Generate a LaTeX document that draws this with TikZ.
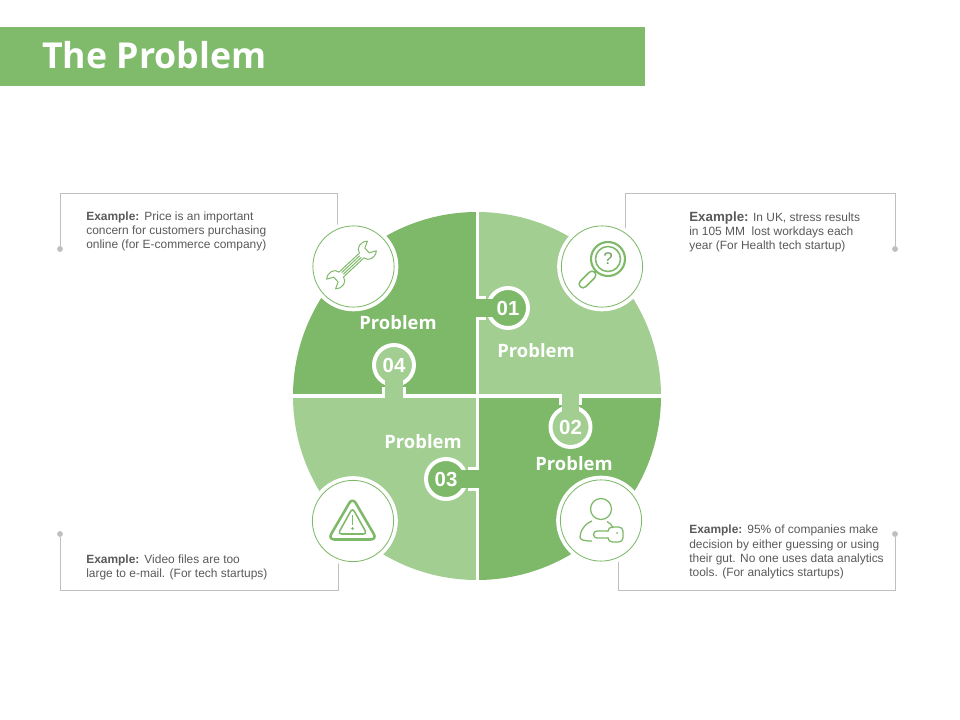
\documentclass[tikz,border=0pt]{standalone}
\usepackage{fontspec}
\setmainfont{Liberation Sans}
\newfontfamily\headfont{Open Sans}
\usetikzlibrary{positioning}

\definecolor{headgreen}{HTML}{7FBB6B}
\definecolor{darkgreen}{HTML}{7DB968}
\definecolor{lightgreen}{HTML}{A2CE92}
\definecolor{boxgray}{HTML}{BFBFBF}
\definecolor{textgray}{HTML}{595959}
\newcommand{\exlabel}{\textbf{Example:}\hspace{.42em}}

\begin{document}
\begin{tikzpicture}[x=0.025cm, y=-0.025cm,
  boxline/.style={draw=boxgray, line width=0.5pt},
  boxdot/.style={circle, fill=boxgray, minimum size=4.2pt, inner sep=0pt},
  note/.style={anchor=north west, inner sep=0pt, align=left, text=textgray, font=\fontsize{8.5}{10}\selectfont},
  problem/.style={text=white, inner sep=0pt, font=\headfont\bfseries\fontsize{13.1}{14}\selectfont},
  tabdisc/.style={circle, draw=white, line width=2.8pt, minimum size=1cm, inner sep=0pt, text=white, font=\bfseries\fontsize{14.5}{16}\selectfont},
  stemring/.style={draw=white, line width=17pt},
  stemfill/.style={line width=12.2pt, shorten <=-2pt, shorten >=-5pt},
  iconring/.style={circle, draw=darkgreen, fill=white, line width=0.6pt, minimum size=2.03cm, inner sep=0pt, preaction={draw=white, line width=6pt}},
  iconline/.style={draw=darkgreen, line width=0.7pt, line join=round},
  iconbold/.style={draw=darkgreen, line width=1.5pt, line join=round}]
\useasboundingbox (0,0) rectangle (960,720);

% header
\fill[headgreen] (0,27) rectangle (645,86);
\node (title) [anchor=west, text=white, inner sep=0pt, font=\headfont\bfseries\fontsize{25.4}{28}\selectfont] at (42,55) {The Problem};

% outlines of the notes
\node (dotA) [boxdot] at (60,249) {};
\node (dotB) [boxdot] at (895,249) {};
\node (dotC) [boxdot] at (60,534) {};
\node (dotD) [boxdot] at (895,534) {};
\coordinate (cornerA) at (337,193);
\coordinate (cornerB) at (625,193);
\coordinate (cornerC) at (338,590);
\coordinate (cornerD) at (618,590);
\coordinate (endA) at (337,240);
\coordinate (endB) at (625,240);
\coordinate (endC) at (338,550);
\coordinate (endD) at (618,550);
\draw[boxline] (dotA) |- (cornerA) -- (endA);
\draw[boxline] (dotB) |- (cornerB) -- (endB);
\draw[boxline] (dotC) |- (cornerC) -- (endC);
\draw[boxline] (dotD) |- (cornerD) -- (endD);

% the four pieces
\begin{scope}
\clip (477,396) circle [radius=184];
\fill[darkgreen] (280,200) rectangle (475.5,394.5);
\fill[lightgreen] (479,200) rectangle (670,394.5);
\fill[lightgreen] (280,398) rectangle (475.5,590);
\fill[darkgreen] (479,398) rectangle (670,590);
\end{scope}

% numbered tabs
\coordinate (edge01) at (477,308);
\coordinate (edge02) at (570.5,396);
\coordinate (edge03) at (477,479);
\coordinate (edge04) at (394,396);
\node (num01) [tabdisc, fill=darkgreen] at (508,308) {01};
\node (num02) [tabdisc, fill=lightgreen] at (570.5,427) {02};
\node (num03) [tabdisc, fill=darkgreen] at (446,479) {03};
\node (num04) [tabdisc, fill=lightgreen] at (394,365) {04};
\draw[stemring] (edge01) -- (num01);
\draw[stemring] (edge02) -- (num02);
\draw[stemring] (edge03) -- (num03);
\draw[stemring] (edge04) -- (num04);
\draw[stemfill, draw=darkgreen] (edge01) -- (num01);
\draw[stemfill, draw=lightgreen] (edge02) -- (num02);
\draw[stemfill, draw=darkgreen] (edge03) -- (num03);
\draw[stemfill, draw=lightgreen] (edge04) -- (num04);

\node (probA) [problem] at (398,323) {Problem};
\node (probB) [problem] at (536,351) {Problem};
\node (probC) [problem] at (423,442) {Problem};
\node (probD) [problem] at (574,464) {Problem};

% icon discs
\node (iconA) [iconring] at (353.5,266.5) {};
\node (iconB) [iconring] at (602,266.5) {};
\node (iconC) [iconring] at (353,521) {};
\node (iconD) [iconring] at (601,520.5) {};

% wrench
\begin{scope}[shift={(351.5,265)}, rotate=43, scale=.82]
\draw[iconline] (-17,-4) -- (17,-4) .. controls (18,-11) and (27,-14) .. (34,-8) -- (26,-4) -- (26,4) -- (34,8) .. controls (27,14) and (18,11) .. (17,4)
  -- (-17,4) .. controls (-18,11) and (-27,14) .. (-34,8) -- (-26,4) -- (-26,-4) -- (-34,-8) .. controls (-27,-14) and (-18,-11) .. (-17,-4);
\draw[iconline] (-15,-1.4) -- (15,-1.4);
\draw[iconline] (-15,1.4) -- (15,1.4);
\end{scope}

% magnifier
\coordinate (lens) at (608,259);
\draw[iconbold] (lens) circle [radius=17];
\draw[iconbold, line width=1.1pt] (lens) circle [radius=12.5];
\node (quest) [text=darkgreen!85!black, inner sep=0pt, font=\fontsize{12}{13}\selectfont] at (lens) {?};
\draw[iconbold] (596,271) -- (592,275);
\draw[darkgreen, line width=6.6pt, line cap=round] (592,275) -- (583,284);
\draw[white, line width=4.2pt, line cap=round] (592,275) -- (583,284);

% warning sign
\draw[iconbold, line width=1.8pt, rounded corners=4.5pt] (352.5,497.5) -- (377,539.5) -- (328,539.5) -- cycle;
\draw[iconbold, line width=1.1pt, rounded corners=2.5pt] (352.5,508) -- (367,534) -- (338,534) -- cycle;
\draw[darkgreen, line width=1.3pt] (352.5,515) -- (352.5,525);
\fill[darkgreen] (352.5,528.5) circle [radius=1.5];

% person with key
\draw[iconline, line width=0.9pt] (601,509) circle [radius=10.5];
\draw[iconline, line width=0.9pt] (592,521) .. controls (584,524) and (580,532) .. (580,537) .. controls (580,540) and (584,541) .. (592,541);
\draw[iconline, line width=0.9pt] (607,521.5) .. controls (610,523) and (612,525) .. (613,528);
\draw[iconline, line width=0.9pt] (608,531) -- (597,531) arc[start angle=270, end angle=90, radius=3.5] -- (608,538);
\draw[iconline, line width=0.9pt, rounded corners=3pt] (608,531) -- (608,527) -- (623,527) -- (623,542) -- (608,542) -- (608,538);
\fill[darkgreen] (617,533) circle [radius=1];

% notes
\node (noteA) [note] at (86,211.5) {\exlabel Price is an important\\concern for customers purchasing\\online (for E-commerce company)};
\node (noteB) [note] at (689,211.5) {{\fontsize{9.5}{10}\selectfont\bfseries Example:} In UK, stress results\\in 105 MM\ \ lost workdays each\\year (For Health tech startup)};
\node (noteC) [note] at (86,554.5) {\exlabel Video files are too\\large to e-mail. (For tech startups)};
\node (noteD) [note] at (689,525) {\exlabel 95\% of companies make\\decision by either guessing or using\\their gut. No one uses data analytics\\tools. (For analytics startups)};
\end{tikzpicture}
\end{document}
